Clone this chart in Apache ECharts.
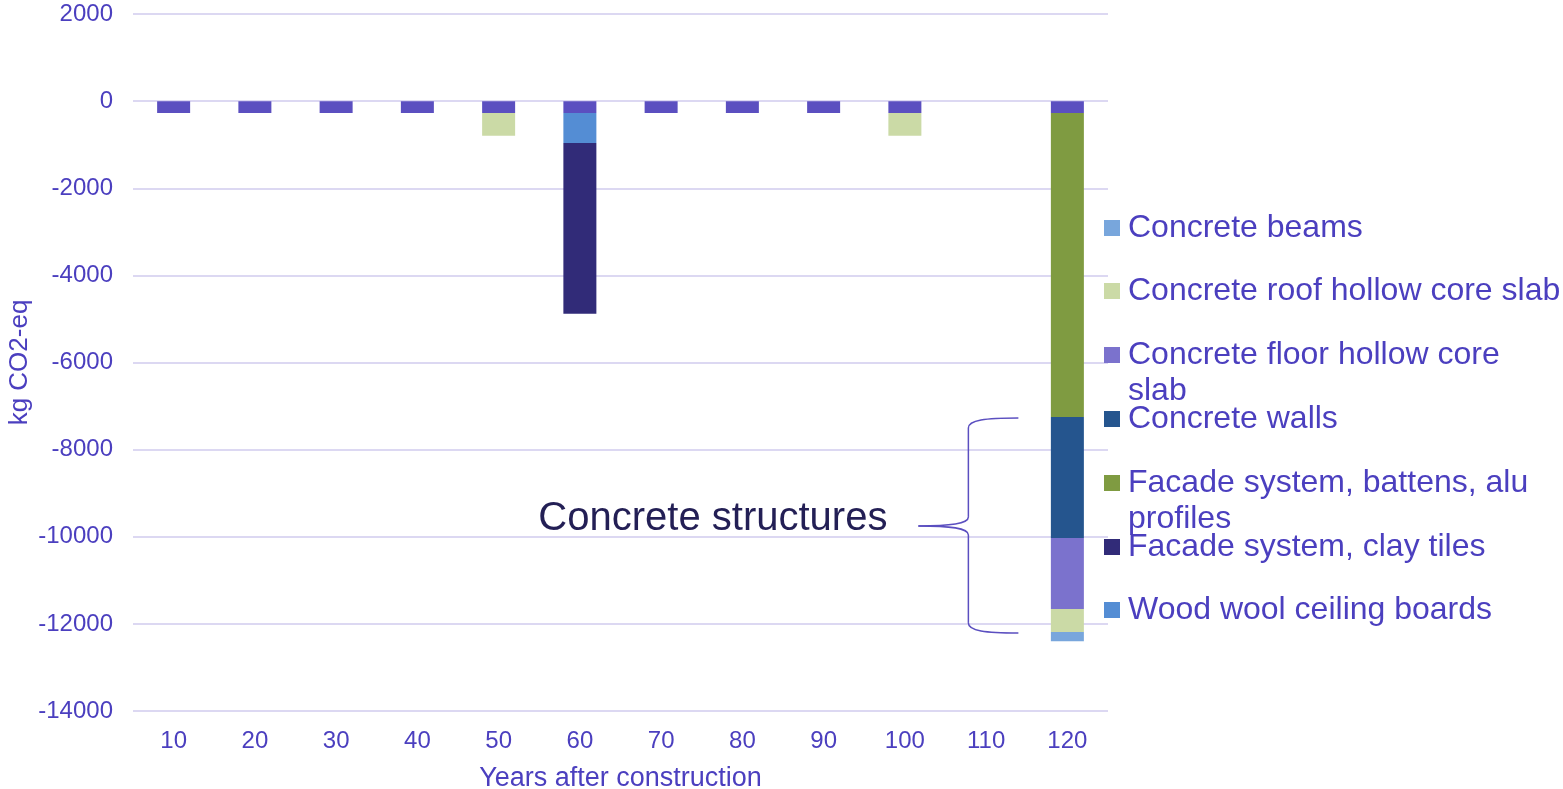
<!DOCTYPE html>
<html>
<head>
<meta charset="utf-8">
<title>Embodied carbon over building life</title>
<script src="https://cdn.jsdelivr.net/npm/echarts@6/dist/echarts.min.js"></script>
<style>
  html, body { margin: 0; padding: 0; background: #ffffff; }
  #chart { width: 1563px; height: 789px; }
</style>
</head>
<body>
<div id="chart"></div>
<script>
// Years after construction (category axis)
const years = ['10', '20', '30', '40', '50', '60', '70', '80', '90', '100', '110', '120'];

// Value axis ticks (kg CO2-eq)
const yMin = -14000;
const yMax = 2000;
const yStep = 2000;

// Stacked components per year, kg CO2-eq (negative = below zero)
const otherRecurring   = [-270, -270, -270, -270, -270, -270, -270, -270, -270, -270, null, -270];
const woodWoolBoards   = [null, null, null, null, null, -690, null, null, null, null, null, null];
const facadeClayTiles  = [null, null, null, null, null, -3920, null, null, null, null, null, null];
const facadeBattens    = [null, null, null, null, null, null, null, null, null, null, null, -6980];
const concreteWalls    = [null, null, null, null, null, null, null, null, null, null, null, -2780];
const concreteFloor    = [null, null, null, null, null, null, null, null, null, null, null, -1630];
const concreteRoof     = [null, null, null, null, -525, null, null, null, null, -525, null, -525];
const concreteBeams    = [null, null, null, null, null, null, null, null, null, null, null, -215];

// Series names
const nmWood   = 'Wood wool ceiling boards';
const nmClay   = 'Facade system, clay tiles';
const nmBatten = 'Facade system, battens, alu profiles';
const nmWalls  = 'Concrete walls';
const nmFloor  = 'Concrete floor hollow core slab';
const nmRoof   = 'Concrete roof hollow core slab';
const nmBeams  = 'Concrete beams';
const nmOther  = 'Other';

const FONT = "'Liberation Sans', Arial, sans-serif";
const TXT = '#4b3fbf';

const chart = echarts.init(document.getElementById('chart'), null, { renderer: 'canvas' });

function bar(name, data, color) {
  return {
    name: name,
    type: 'bar',
    stack: 'total',
    barWidth: 33,
    data: data,
    itemStyle: { color: color },
    emphasis: { disabled: true }
  };
}

// Legend entries, listed top to bottom, each with its own row.
// Wrapped entries keep the swatch beside their first line.
const legendRows = [
  { name: nmBeams,  lines: ['Concrete beams'],                          center: 228 },
  { name: nmRoof,   lines: ['Concrete roof hollow core slab'],          center: 291 },
  { name: nmFloor,  lines: ['Concrete floor hollow core', 'slab'],      center: 355 },
  { name: nmWalls,  lines: ['Concrete walls'],                          center: 419 },
  { name: nmBatten, lines: ['Facade system, battens, alu', 'profiles'], center: 483 },
  { name: nmClay,   lines: ['Facade system, clay tiles'],               center: 547 },
  { name: nmWood,   lines: ['Wood wool ceiling boards'],                center: 610 }
];
const LH = 36;
const legends = legendRows.map(function (r) {
  let text = r.lines.join('\n');
  let count = r.lines.length;
  if (count > 1) {
    // pad above so the middle line (the first real one) sits beside the swatch
    text = ' \n' + text;
    count += 1;
  }
  const h = count * LH;
  return {
    data: [r.name],
    orient: 'vertical',
    left: 1104,
    top: r.center - h / 2,
    padding: 0,
    itemWidth: 16,
    itemHeight: 16,
    icon: 'rect',
    selectedMode: false,
    formatter: function () { return text; },
    textStyle: {
      fontFamily: FONT,
      fontSize: 32,
      color: TXT,
      lineHeight: LH,
      padding: [0, 0, 0, 3]
    }
  };
});

const option = {
  animation: false,
  backgroundColor: '#ffffff',
  grid: { left: 133, right: 455, top: 14, bottom: 78, containLabel: false, outerBoundsMode: 'none' },
  legend: legends,
  xAxis: {
    type: 'category',
    data: years,
    name: 'Years after construction',
    nameLocation: 'middle',
    nameGap: 54,
    nameTextStyle: { fontFamily: FONT, fontSize: 27, color: TXT },
    axisLine: { show: false, onZero: false },
    axisTick: { show: false },
    axisLabel: { fontFamily: FONT, fontSize: 24, color: TXT, margin: 18 },
    splitLine: { show: false }
  },
  yAxis: {
    type: 'value',
    min: yMin,
    max: yMax,
    interval: yStep,
    name: 'kg CO2-eq',
    nameLocation: 'middle',
    nameGap: 100,
    nameMoveOverlap: false,
    nameTextStyle: { fontFamily: FONT, fontSize: 26, color: TXT },
    axisLine: { show: false },
    axisTick: { show: false },
    axisLabel: {
      fontFamily: FONT, fontSize: 24, color: TXT, margin: 20,
      padding: [3, 0, 0, 0],
      formatter: function (v) { return String(v); }
    },
    splitLine: { show: true, lineStyle: { color: '#dcd8f2', width: 2 } }
  },
  series: [
    bar(nmOther,  otherRecurring,  '#5b4fc0'),
    bar(nmWood,   woodWoolBoards,  '#548dd4'),
    bar(nmClay,   facadeClayTiles, '#312b78'),
    bar(nmBatten, facadeBattens,   '#7f9b41'),
    bar(nmWalls,  concreteWalls,   '#25558e'),
    bar(nmFloor,  concreteFloor,   '#7b72cd'),
    bar(nmRoof,   concreteRoof,    '#cbdaa6'),
    bar(nmBeams,  concreteBeams,   '#78a6dc')
  ]
};

chart.setOption(option);

// Brace grouping the concrete parts of the last stack, with its caption
const lastIdx = years.length - 1;
const wallsTop = otherRecurring[lastIdx] + facadeBattens[lastIdx];
const roofBottom = wallsTop + concreteWalls[lastIdx] + concreteFloor[lastIdx] + concreteRoof[lastIdx];
const pTop = chart.convertToPixel({ gridIndex: 0 }, [years[lastIdx], wallsTop]);
const pBot = chart.convertToPixel({ gridIndex: 0 }, [years[lastIdx], roofBottom]);
const cx = pTop[0];
const yT = pTop[1] + 1;
const yB = pBot[1] + 1;
const yM = (yT + yB) / 2 + 0.5;
const xEnd = cx - 49;
const xV = cx - 99;
const xTip = cx - 149;

const braceStyle = { fill: null, stroke: '#5b4fc0', lineWidth: 1.5 };
function curve(x1, y1, c1x, c1y, c2x, c2y, x2, y2) {
  return {
    type: 'bezierCurve', silent: true,
    shape: { x1: x1, y1: y1, cpx1: c1x, cpy1: c1y, cpx2: c2x, cpy2: c2y, x2: x2, y2: y2 },
    style: braceStyle
  };
}
function seg(x1, y1, x2, y2) {
  return { type: 'line', silent: true, shape: { x1: x1, y1: y1, x2: x2, y2: y2 }, style: braceStyle };
}

chart.setOption({
  graphic: [
    curve(xEnd, yT, xEnd - 33, yT, xV, yT + 2, xV, yT + 10),
    seg(xV, yT + 10, xV, yM - 9),
    curve(xV, yM - 9, xV, yM - 2, xV - 18, yM, xTip, yM),
    curve(xTip, yM, xV - 18, yM, xV, yM + 2, xV, yM + 9),
    seg(xV, yM + 9, xV, yB - 10),
    curve(xV, yB - 10, xV, yB - 2, xEnd - 33, yB, xEnd, yB),
    {
      type: 'text',
      silent: true,
      x: xTip - 31,
      y: yM - 7,
      style: {
        text: 'Concrete structures',
        fontFamily: FONT,
        fontSize: 40,
        fill: '#231f55',
        align: 'right',
        verticalAlign: 'middle'
      }
    }
  ]
});
</script>
</body>
</html>
